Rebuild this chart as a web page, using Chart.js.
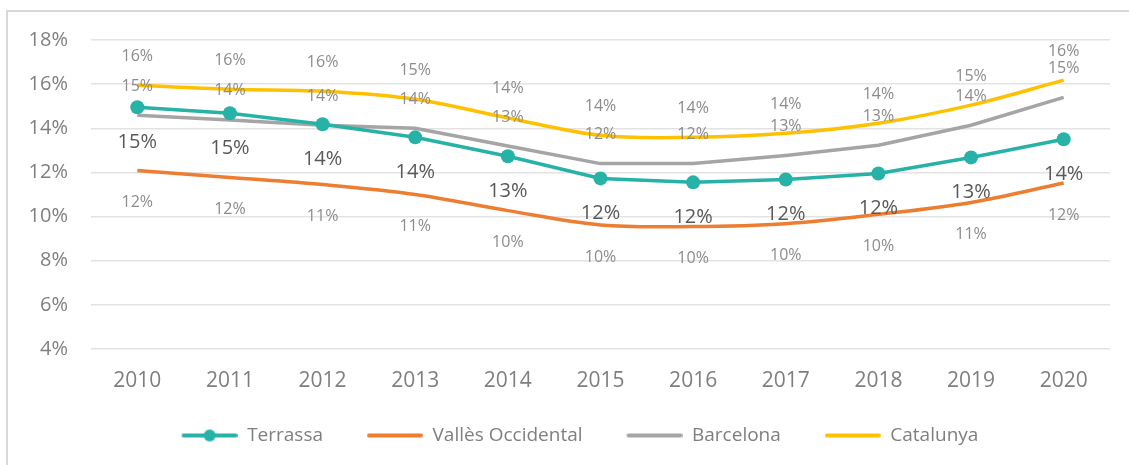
<!DOCTYPE html>
<html>
<head>
<meta charset="utf-8">
<script src="https://cdn.jsdelivr.net/npm/chart.js@4/dist/chart.umd.min.js"></script>
<style>
  html, body { margin: 0; padding: 0; background: #ffffff; }
  #wrap { width: 1129px; height: 465px; position: relative; }
</style>
</head>
<body>
<div id="wrap"><canvas id="rateChart"></canvas></div>
<script>
// Data
const years = ['2010', '2011', '2012', '2013', '2014', '2015', '2016', '2017', '2018', '2019', '2020'];
const terrassa = [14.95, 14.68, 14.18, 13.59, 12.73, 11.73, 11.55, 11.68, 11.95, 12.68, 13.5];
const valles = [12.09, 11.77, 11.45, 11.0, 10.27, 9.62, 9.55, 9.68, 10.1, 10.64, 11.52];
const barcelona = [14.59, 14.38, 14.14, 14.0, 13.2, 12.4, 12.4, 12.77, 13.23, 14.14, 15.4];
const catalunya = [15.95, 15.77, 15.68, 15.32, 14.47, 13.68, 13.59, 13.77, 14.23, 15.05, 16.18];
const yTicks = [4, 6, 8, 10, 12, 14, 16, 18];

const FONT = 'Open Sans';

// legend marker images (line, and line + dot for Terrassa)
// left part of the image is left empty to widen the gap between items
function legendMarker(color, withDot) {
    const c = document.createElement('canvas');
    c.width = 70;
    c.height = 16;
    const g = c.getContext('2d');
    g.strokeStyle = color;
    g.lineWidth = 4;
    g.lineCap = 'round';
    g.beginPath();
    g.moveTo(16, 8);
    g.lineTo(68, 8);
    g.stroke();
    if (withDot) {
        g.fillStyle = color;
        g.beginPath();
        g.arc(42, 8, 6, 0, Math.PI * 2);
        g.fill();
    }
    return c;
}

// light frame behind the chart, legend nudged right
const framePlugin = {
    id: 'frame',
    afterLayout(chart) {
        chart.legend.left += 18;
        chart.legend.right += 18;
    },
    beforeDraw(chart) {
        const ctx = chart.ctx;
        ctx.save();
        ctx.fillStyle = '#ffffff';
        ctx.fillRect(0, 0, chart.width, chart.height);
        ctx.strokeStyle = '#d9d9d9';
        ctx.lineWidth = 2;
        ctx.strokeRect(7, 11, chart.width + 20, chart.height + 20);
        ctx.restore();
    }
};

// value labels above / below each point
const valueLabels = {
    id: 'valueLabels',
    afterDatasetsDraw(chart) {
        const ctx = chart.ctx;
        ctx.save();
        ctx.textAlign = 'center';
        ctx.textBaseline = 'middle';
        chart.data.datasets.forEach((ds, i) => {
            const meta = chart.getDatasetMeta(i);
            const lab = ds.labelStyle;
            ctx.font = lab.size + 'px "' + FONT + '"';
            ctx.fillStyle = lab.color;
            meta.data.forEach((pt, j) => {
                ctx.fillText(Math.round(ds.data[j]) + '%', pt.x, pt.y + lab.offset);
            });
        });
        ctx.restore();
    }
};

const ctx = document.getElementById('rateChart').getContext('2d');
const rateChart = new Chart(ctx, {
    type: 'line',
    data: {
        labels: years,
        datasets: [{
            label: 'Terrassa',
            data: terrassa,
            borderColor: '#26b2a6',
            backgroundColor: '#26b2a6',
            borderWidth: 3.5,
            tension: 0,
            pointRadius: 7,
            pointBackgroundColor: '#26b2a6',
            pointBorderWidth: 0,
            labelStyle: { offset: 35, size: 20, color: '#595959' },
            marker: legendMarker('#26b2a6', true)
        }, {
            label: 'Vallès Occidental',
            data: valles,
            borderColor: '#ed7d31',
            backgroundColor: '#ed7d31',
            borderWidth: 3.5,
            tension: 0.35,
            pointRadius: 0,
            labelStyle: { offset: 32, size: 16, color: '#8c8c8c' },
            marker: legendMarker('#ed7d31', false)
        }, {
            label: 'Barcelona',
            data: barcelona,
            borderColor: '#a5a5a5',
            backgroundColor: '#a5a5a5',
            borderWidth: 3.5,
            tension: 0,
            pointRadius: 0,
            labelStyle: { offset: -29, size: 16, color: '#8c8c8c' },
            marker: legendMarker('#a5a5a5', false)
        }, {
            label: 'Catalunya',
            data: catalunya,
            borderColor: '#ffc000',
            backgroundColor: '#ffc000',
            borderWidth: 3.5,
            tension: 0.35,
            pointRadius: 0,
            labelStyle: { offset: -29, size: 16, color: '#8c8c8c' },
            marker: legendMarker('#ffc000', false)
        }]
    },
    options: {
        responsive: true,
        maintainAspectRatio: false,
        animation: false,
        layout: {
            padding: { left: 0, right: 19, top: 40, bottom: 10 }
        },
        plugins: {
            legend: {
                position: 'bottom',
                labels: {
                    usePointStyle: true,
                    pointStyleWidth: 70,
                    padding: 30,
                    color: '#7f7f7f',
                    font: { family: FONT, size: 19 },
                    generateLabels(chart) {
                        return chart.data.datasets.map((ds, i) => ({
                            text: ds.label,
                            pointStyle: ds.marker,
                            fillStyle: ds.borderColor,
                            strokeStyle: ds.borderColor,
                            lineWidth: 0,
                            fontColor: '#7f7f7f',
                            hidden: false,
                            datasetIndex: i
                        }));
                    }
                }
            },
            tooltip: { enabled: false }
        },
        scales: {
            y: {
                min: 4,
                max: 18,
                afterFit(scale) { scale.width = 91; },
                afterBuildTicks(scale) {
                    scale.ticks = yTicks.map(v => ({ value: v }));
                },
                grid: {
                    color: '#e3e3e3',
                    lineWidth: 1.5,
                    drawTicks: false
                },
                border: { display: false },
                ticks: {
                    padding: 23,
                    color: '#7f7f7f',
                    font: { family: FONT, size: 20 },
                    callback: function(value) {
                        return value + '%';
                    }
                }
            },
            x: {
                offset: true,
                afterFit(scale) { scale.height = 47; },
                grid: { display: false, drawTicks: false },
                border: { display: false },
                ticks: {
                    padding: 19,
                    color: '#7f7f7f',
                    font: { family: FONT, size: 21 }
                }
            }
        }
    },
    plugins: [framePlugin, valueLabels]
});
</script>
</body>
</html>
